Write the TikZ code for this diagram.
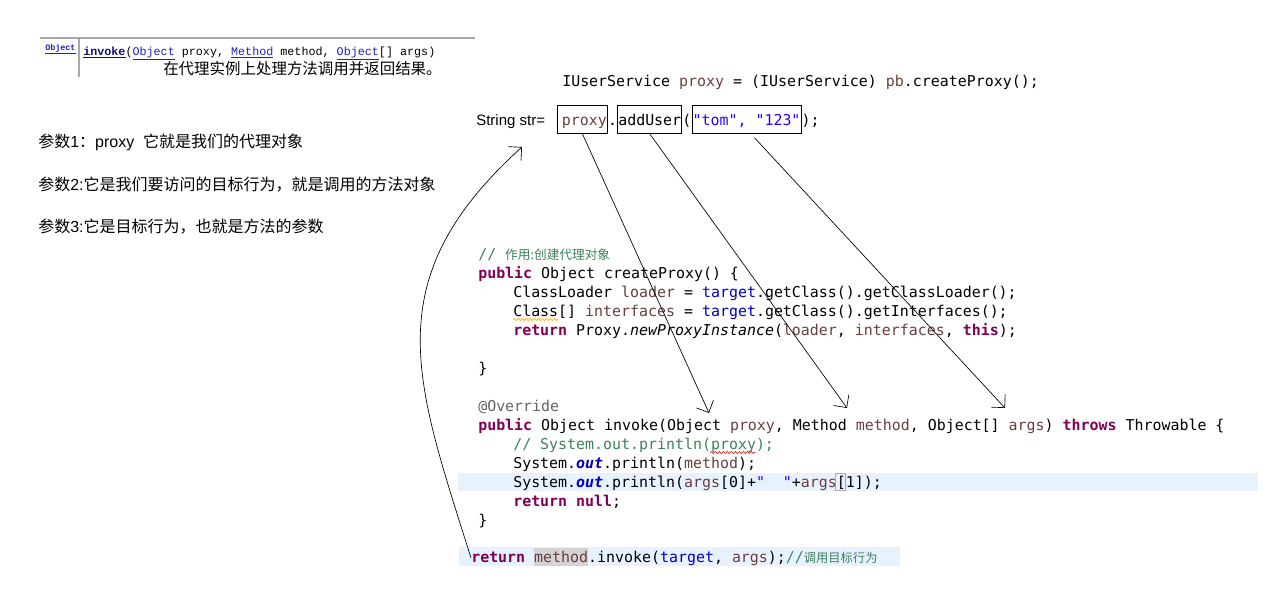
\documentclass[tikz,border=0pt]{standalone}
\usepackage{fontspec}
\usepackage{xcolor}
\setmainfont{Liberation Sans}
\setmonofont{DejaVu Sans Mono}
\newfontfamily\cjk{Noto Sans CJK SC}
\newfontfamily\docmono{Liberation Mono}
\usetikzlibrary{arrows.meta}
\usetikzlibrary{positioning}
\usetikzlibrary{decorations.pathmorphing}
\definecolor{kwcol}{HTML}{7F0055}
\definecolor{varcol}{HTML}{6A3E3E}
\definecolor{fldcol}{HTML}{0000C0}
\definecolor{strcol}{HTML}{2A00FF}
\definecolor{cmtcol}{HTML}{3F7F5F}
\definecolor{anncol}{HTML}{646464}
\definecolor{linkblue}{HTML}{2020C0}
\definecolor{navyblue}{HTML}{101070}
\definecolor{hlblue}{HTML}{E8F2FE}
\definecolor{hlgray}{HTML}{D4D4D4}
\definecolor{rulegray}{HTML}{A8A8A8}
\newcommand\codefont{\ttfamily\fontsize{11.2pt}{13pt}\selectfont}
\newcommand\jkw[1]{\textcolor{kwcol}{\bfseries #1}}
\newcommand\jvar[1]{\textcolor{varcol}{#1}}
\newcommand\jfld[1]{\textcolor{fldcol}{#1}}
\newcommand\jstr[1]{\textcolor{strcol}{#1}}
\newcommand\jcmt[1]{\textcolor{cmtcol}{#1}}
\newcommand\jout{\textcolor{fldcol}{\bfseries\itshape out}}
\newcommand\jlink[1]{\textcolor{linkblue}{\underline{#1}}}
\tikzset{
  code/.style={anchor=base west, inner sep=0pt, font=\codefont},
  note/.style={anchor=base west, inner sep=0pt, font=\fontsize{12pt}{14pt}\selectfont},
  cbox/.style={code, draw, line width=0.6pt, inner xsep=0.4pt, inner ysep=1.5pt,
    text height=13.5pt, text depth=4.8pt},
  ptr/.style={line width=0.5pt, -{Straight Barb[length=7pt,width=14pt]}},
  squiggle/.style={decorate, decoration={snake, amplitude=0.7pt, segment length=3pt}, line width=0.4pt}
}

\begin{document}
\begin{tikzpicture}[x=0.75pt, y=-0.75pt]
  \useasboundingbox (0, 0) rectangle (1274, 597);

  \fill [hlblue] (458, 473) rectangle (1258, 491);
  \fill [hlblue] (459, 547) rectangle (900, 566);
  \fill [hlgray] (533.5, 548) rectangle (588, 566);
  \draw [hlgray!80!black, line width=0.5pt] (835, 473.5) rectangle (845, 490.5);

  \draw [rulegray, line width=1pt] (40, 38) -- (475, 38);
  \draw [rulegray, line width=1pt] (79, 39) -- (79, 77);
  \node [anchor=base west, inner sep=0pt, font=\docmono\fontsize{6.3pt}{7pt}\selectfont\bfseries] (objlink) at (45, 50) {\jlink{Object}};
  \node [anchor=base west, inner sep=0pt, font=\docmono\fontsize{8.8pt}{10pt}\selectfont] (sig) at (83, 55)
    {\textcolor{navyblue}{\bfseries\underline{invoke}}(\jlink{Object} proxy, \jlink{Method} method, \jlink{Object}[] args)};
  \node [anchor=base west, inner sep=0pt, font=\cjk\fontsize{11.6pt}{13pt}\selectfont] (sigdesc) at (163, 74) {在代理实例上处理方法调用并返回结果。};

  \node [note] (arg1) at (38, 147) {{\cjk 参数}1{\cjk ：}proxy\ \ {\cjk 它就是我们的代理对象}};
  \node [note] (arg2) at (38, 190) {{\cjk 参数}2:{\cjk 它是我们要访问的目标行为，就是调用的方法对象}};
  \node [note] (arg3) at (38, 232) {{\cjk 参数}3:{\cjk 它是目标行为，也就是方法的参数}};

  \node [code] (cast) at (562, 86) {IUserService \jvar{proxy} = (IUserService) \jvar{pb}.createProxy();};
  \node [anchor=base west, inner sep=0pt, font=\fontsize{11.25pt}{13pt}\selectfont] (strdecl) at (476, 125) {String str=};
  \node [cbox] (pbox) at (557, 125) {\hspace{3pt}\jvar{proxy}};
  \node [code, base right=0pt of pbox] (dot) {.};
  \node [cbox, base right=0pt of dot] (abox) {addUser};
  \node [code, base right=0pt of abox] (lpar) {(};
  \node [cbox, base right=0pt of lpar] (tbox) {\jstr{"tom", "123"}};
  \node [code, base right=0pt of tbox] (rpar) {);};

  \node [code] (c1) at (478, 259) {\jcmt{// {\cjk\fontsize{9.5pt}{11pt}\selectfont 作用:创建代理对象}}};
  \node [code] (c2) at (478, 278) {\jkw{public} Object createProxy() \{};
  \node [code] (c3) at (513, 297) {ClassLoader \jvar{loader} = \jfld{target}.getClass().getClassLoader();};
  \node [code] (c4) at (513, 316) {Class[] \jvar{interfaces} = \jfld{target}.getClass().getInterfaces();};
  \node [code] (c5) at (513, 335) {\jkw{return} Proxy.\textit{newProxyInstance}(\jvar{loader}, \jvar{interfaces}, \jkw{this});};
  \node [code] (c6) at (478, 373) {\}};
  \node [code] (c7) at (478, 411) {\textcolor{anncol}{@Override}};
  \node [code] (c8) at (478, 430) {\jkw{public} Object invoke(Object \jvar{proxy}, Method \jvar{method}, Object[] \jvar{args}) \jkw{throws} Throwable \{};
  \node [code] (c9) at (513, 449) {\jcmt{// System.out.println(proxy);}};
  \node [code] (c10) at (513, 468) {System.\jout.println(\jvar{method});};
  \node [code] (c11) at (513, 487) {System.\jout.println(\jvar{args}[0]+\jstr{"\ \ "}+\jvar{args}[1]);};
  \node [code] (c12) at (513, 506) {\jkw{return} \jkw{null};};
  \node [code] (c13) at (478, 525) {\}};
  \node [code] (rline) at (471, 562) {\jkw{return} \jvar{method}.invoke(\jfld{target}, \jvar{args});\jcmt{//{\cjk\fontsize{9.2pt}{11pt}\selectfont 调用目标行为}}};

  \draw [squiggle, orange!80!yellow] (513, 319.5) -- (558, 319.5);
  \draw [squiggle, red!80!black] (710, 452.5) -- (755, 452.5);

  \coordinate (strtip) at (522, 147);
  \coordinate (pend) at (709, 413);
  \coordinate (mend) at (847, 408);
  \coordinate (aend) at (1005, 408);

  \draw [ptr] (pbox.south) -- (pend);
  \draw [ptr] (abox.south) -- (mend);
  \draw [ptr] ([xshift=6pt, yshift=-3pt]tbox.south) -- (aend);
  \draw [ptr] (rline.west) .. controls (415, 380) and (375, 280) .. (strtip);
\end{tikzpicture}
\end{document}
